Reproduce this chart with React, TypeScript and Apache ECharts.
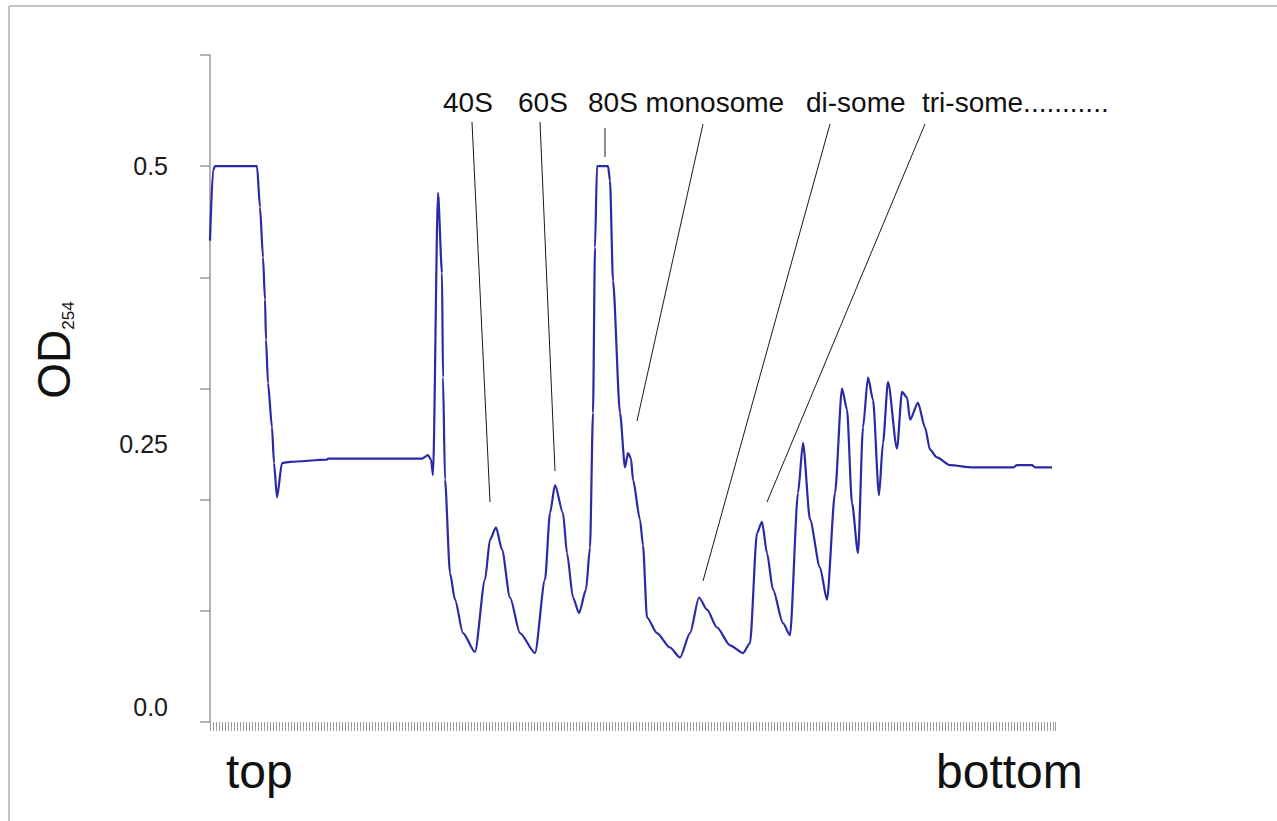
import React, { useEffect, useRef } from "react";
import * as echarts from "echarts";

// Position along the gradient (arbitrary units, top -> bottom)
const xPos = [0,3,5,47,50,53,55,56,58,62,64,67,72,80,117,118,212,218,221,223,228,232,233,235,240,245,253,265,275,280,286,292,300,310,325,335,340,345,353,357,363,369,376,380,383,385,387,398,400,403,410,415,418,421,423,430,433,437,447,460,470,480,489,497,507,520,533,540,547,552,557,563,573,580,588,593,600,610,617,625,632,637,642,648,653,658,663,669,673,678,687,692,697,700,708,715,720,727,740,763,803,807,822,825,842];
// OD254 readings
const od = [0.433,0.496,0.5,0.5,0.463,0.418,0.38,0.344,0.305,0.265,0.233,0.202,0.233,0.234,0.236,0.237,0.237,0.24,0.236,0.222,0.476,0.404,0.31,0.218,0.134,0.11,0.08,0.063,0.128,0.164,0.175,0.155,0.112,0.08,0.062,0.128,0.188,0.213,0.188,0.152,0.112,0.098,0.119,0.157,0.278,0.427,0.5,0.5,0.487,0.397,0.278,0.229,0.242,0.237,0.218,0.182,0.159,0.094,0.08,0.067,0.058,0.08,0.112,0.101,0.085,0.069,0.062,0.071,0.17,0.18,0.152,0.119,0.089,0.078,0.206,0.251,0.182,0.139,0.11,0.206,0.3,0.281,0.197,0.152,0.265,0.31,0.29,0.204,0.251,0.306,0.246,0.297,0.292,0.272,0.287,0.265,0.245,0.238,0.231,0.229,0.229,0.231,0.231,0.229,0.229];

const yLabelValues = [0, 0.25, 0.5];
const yLabelTexts = ["0.0", "0.25", "0.5"];
const peakLabels = ["40S", "60S", "80S monosome", "di-some", "tri-some..........."];
const endLabels = ["top", "bottom"];

const FONT = "'Liberation Sans', Arial, Helvetica, sans-serif";

export default function App() {
  const ref = useRef<HTMLDivElement>(null);
  useEffect(() => {
    if (!ref.current) return;
    const chart = echarts.init(ref.current, null, { renderer: "svg" });
    const data = xPos.map((x, i) => [x, od[i]]);
    const lineStyle = { stroke: "#1a1a1a", lineWidth: 1 };
    const labelStyle = (text: string) => ({ text, fontSize: 28, fontFamily: FONT, fill: "#111", verticalAlign: "middle" });
    chart.setOption({
      animation: false,
      backgroundColor: "#ffffff",
      grid: { left: 210, right: 222, top: 55, bottom: 99 },
      xAxis: {
        type: "value",
        min: 0,
        max: 845,
        interval: 3,
        axisLine: { show: false },
        axisTick: { show: true, length: 9, lineStyle: { color: "#9c9c9c", width: 1 } },
        axisLabel: { show: false },
        splitLine: { show: false },
      },
      yAxis: [
        {
          type: "value",
          min: 0,
          max: 0.6,
          interval: 0.1,
          axisLine: { show: true, lineStyle: { color: "#9a9a9a", width: 1.5 } },
          axisTick: { show: true, length: 10, lineStyle: { color: "#9a9a9a", width: 1.5 } },
          axisLabel: { show: false },
          splitLine: { show: false },
        },
        {
          type: "value",
          position: "left",
          min: 0,
          max: 0.6,
          interval: 0.25,
          axisLine: { show: false },
          axisTick: { show: false },
          splitLine: { show: false },
          axisLabel: {
            show: true,
            margin: 42,
            fontSize: 25,
            fontFamily: FONT,
            color: "#1a1a1a",
            formatter: (v: number) => {
              const i = yLabelValues.findIndex((t) => Math.abs(t - v) < 1e-9);
              if (i < 0) return "";
              return i === 0 ? "{z|" + yLabelTexts[i] + "}" : yLabelTexts[i];
            },
            rich: { z: { fontSize: 25, fontFamily: FONT, color: "#1a1a1a", padding: [0, 0, 30, 0] } },
          },
        },
      ],
      series: [
        {
          type: "line",
          data,
          yAxisIndex: 0,
          showSymbol: false,
          symbol: "none",
          smooth: 0.25,
          smoothMonotone: "x",
          lineStyle: { color: "#2a2aa6", width: 2.2 },
        },
      ],
      graphic: [
        { type: "line", shape: { x1: 9, y1: 6, x2: 1277, y2: 6 }, style: { stroke: "#c4c4c4", lineWidth: 2 } },
        { type: "line", shape: { x1: 9, y1: 6, x2: 9, y2: 821 }, style: { stroke: "#c4c4c4", lineWidth: 2 } },
        {
          type: "text",
          x: 54,
          y: 350,
          rotation: Math.PI / 2,
          style: {
            text: "{a|OD}{b|254}",
            align: "center",
            verticalAlign: "middle",
            rich: {
              a: { fontSize: 46, fontFamily: FONT, fill: "#111", lineHeight: 46, verticalAlign: "bottom" },
              b: { fontSize: 17, fontFamily: FONT, fill: "#111", lineHeight: 17, verticalAlign: "bottom" },
            },
          },
        },
        { type: "text", x: 226, y: 771, style: { text: endLabels[0], fontSize: 48, fontFamily: FONT, fill: "#111", verticalAlign: "middle" } },
        { type: "text", x: 936, y: 771, style: { text: endLabels[1], fontSize: 48, fontFamily: FONT, fill: "#111", verticalAlign: "middle" } },
        { type: "text", x: 443, y: 102, style: labelStyle(peakLabels[0]) },
        { type: "text", x: 518, y: 102, style: labelStyle(peakLabels[1]) },
        { type: "text", x: 588, y: 102, style: labelStyle(peakLabels[2]) },
        { type: "text", x: 806, y: 102, style: labelStyle(peakLabels[3]) },
        { type: "text", x: 922, y: 102, style: labelStyle(peakLabels[4]) },
        { type: "line", shape: { x1: 472, y1: 122, x2: 490, y2: 502 }, style: lineStyle },
        { type: "line", shape: { x1: 540, y1: 122, x2: 555, y2: 471 }, style: lineStyle },
        { type: "line", shape: { x1: 605, y1: 128, x2: 605, y2: 157 }, style: lineStyle },
        { type: "line", shape: { x1: 703, y1: 124, x2: 637, y2: 421 }, style: lineStyle },
        { type: "line", shape: { x1: 830, y1: 124, x2: 703, y2: 581 }, style: lineStyle },
        { type: "line", shape: { x1: 925, y1: 124, x2: 767, y2: 502 }, style: lineStyle },
      ],
    });
    return () => chart.dispose();
  }, []);
  return (
    <div
      ref={ref}
      style={{ position: "fixed", left: 0, top: 0, width: 1277, height: 821, background: "#fff" }}
    />
  );
}
